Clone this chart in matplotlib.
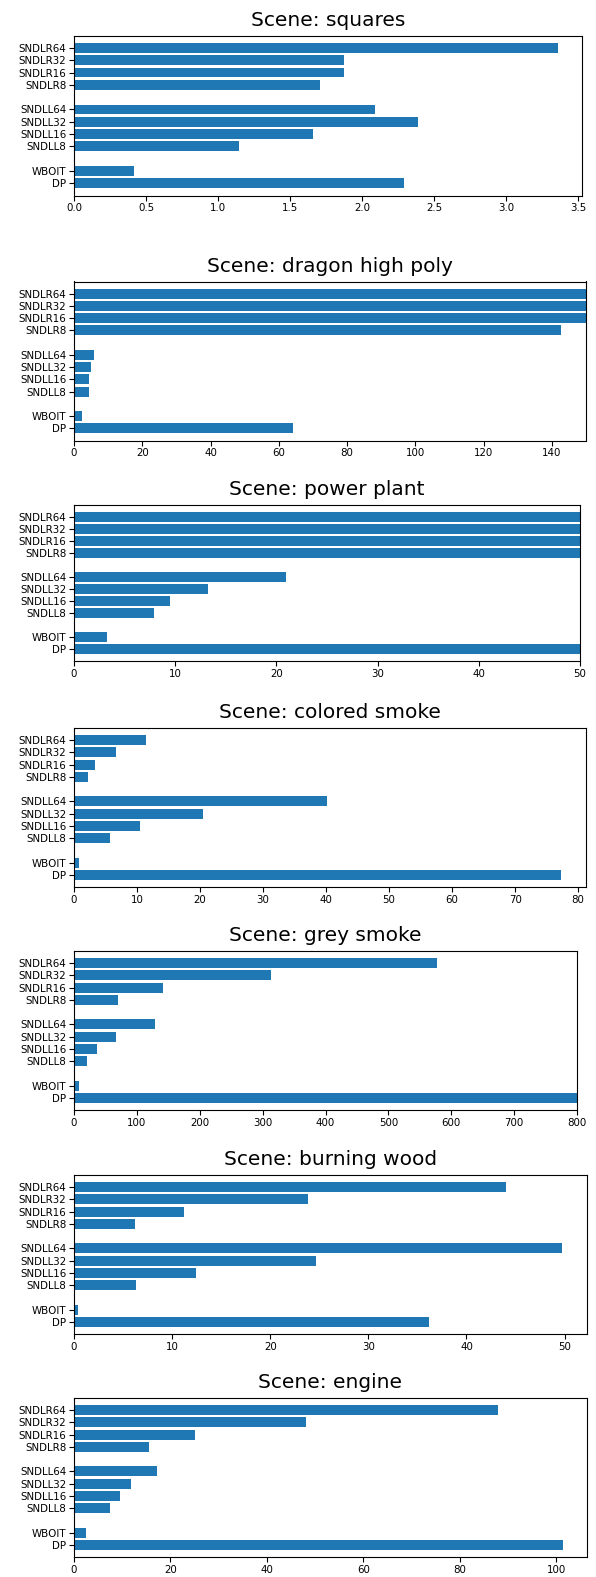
import matplotlib
matplotlib.use("Agg")
import matplotlib.pyplot as plt

# Method labels, bottom to top
methods = ["DP", "WBOIT",
           "SNDLL8", "SNDLL16", "SNDLL32", "SNDLL64",
           "SNDLR8", "SNDLR16", "SNDLR32", "SNDLR64"]
# y slots: a gap between the three method groups
y_pos = [0, 1, 3, 4, 5, 6, 8, 9, 10, 11]

scenes = ["squares", "dragon high poly", "power plant", "colored smoke",
          "grey smoke", "burning wood", "engine"]

# Frame times per scene, in the same order as `methods`
squares = [2.29, 0.415, 1.145, 1.66, 2.39, 2.09, 1.705, 1.875, 1.875, 3.36]
dragon_high_poly = [64.2, 2.3, 4.3, 4.3, 4.9, 5.8, 142.6, 175.0, 190.0, 210.0]
power_plant = [61.0, 3.3, 7.9, 9.5, 13.2, 20.9, 55.0, 58.0, 63.0, 72.0]
colored_smoke = [77.3, 0.8, 5.7, 10.4, 20.4, 40.2, 2.2, 3.3, 6.6, 11.4]
grey_smoke = [860.0, 7.9, 20.5, 36.0, 66.5, 129.0, 69.5, 141.0, 313.0, 577.0]
burning_wood = [36.2, 0.4, 6.3, 12.4, 24.65, 49.75, 6.2, 11.2, 23.8, 44.0]
engine = [101.3, 2.4, 7.4, 9.5, 11.8, 17.2, 15.5, 25.1, 48.1, 88.0]

scene_values = [squares, dragon_high_poly, power_plant, colored_smoke,
                grey_smoke, burning_wood, engine]
# fixed x limits (None = automatic)
x_limits = [None, (0, 150), (0, 50), None, (0, 800), None, None]

W, H = 596, 1577
fig = plt.figure(figsize=(W / 100, H / 100), dpi=100)

# axes boxes in pixels: left, top, right, bottom
boxes = [
    (74, 35.7, 582.0, 195.5),
    (74, 281.5, 586.0, 440.5),
    (74, 505.0, 580.0, 661.0),
    (74, 728.0, 585.5, 887.0),
    (74, 951.0, 577.0, 1110.0),
    (74, 1175.0, 586.5, 1334.0),
    (74, 1398.0, 587.0, 1557.0),
]

for name, vals, xlim, (l, t, r, b) in zip(scenes, scene_values, x_limits, boxes):
    ax = fig.add_axes([l / W, 1 - b / H, (r - l) / W, (b - t) / H])
    ax.barh(y_pos, vals, height=0.8, color="#1f77b4")
    ax.set_yticks(y_pos)
    ax.set_yticklabels(methods)
    if xlim is not None:
        ax.set_xlim(*xlim)
    ax.tick_params(axis="both", labelsize=7.4, length=3.5, width=0.8, pad=2)
    ax.set_title(f"Scene: {name}", fontsize=14.5, pad=7)

fig.savefig("out.png", dpi=100)
